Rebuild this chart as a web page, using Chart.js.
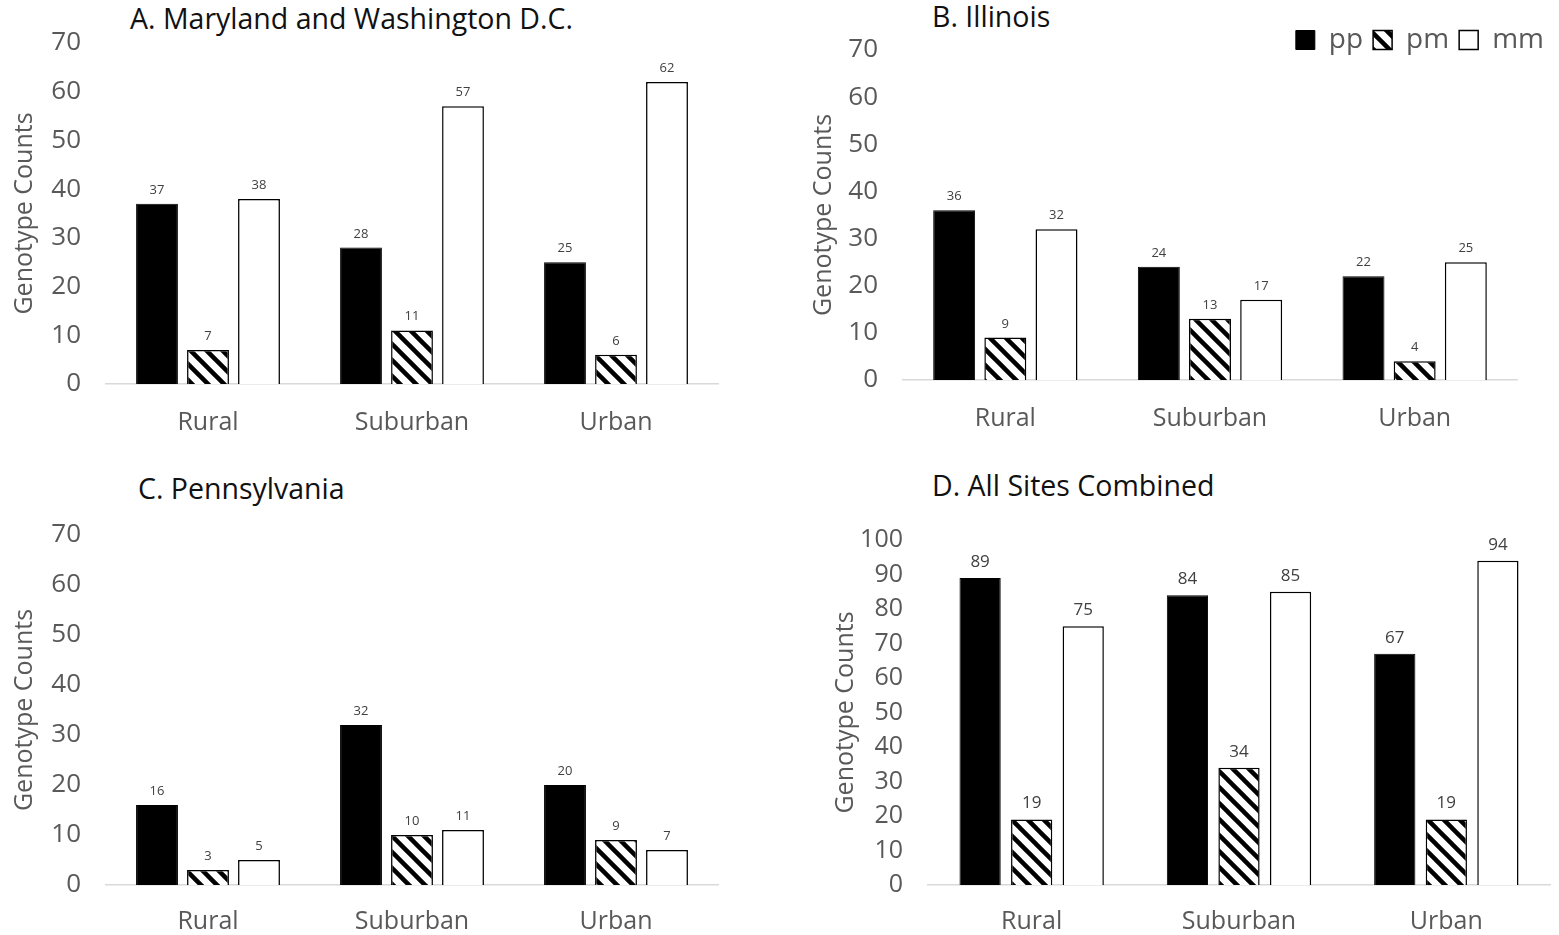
<!DOCTYPE html>
<html>
<head>
<meta charset="utf-8">
<script src="https://cdn.jsdelivr.net/npm/chart.js@4/dist/chart.umd.min.js"></script>
<style>
    body { margin: 0; background: #fff; width: 1559px; height: 935px; position: relative; overflow: hidden; }
    canvas { position: absolute; }
    .ttl { position: absolute; font-family: "Open Sans", sans-serif; font-size: 28.5px; line-height: 1; color: #111; white-space: nowrap; }
</style>
</head>
<body>
<div class="ttl" style="left:130px;top:4px;">A. Maryland and Washington D.C.</div>
<div class="ttl" style="left:932px;top:2px;">B. Illinois</div>
<div class="ttl" style="left:138px;top:474px;">C. Pennsylvania</div>
<div class="ttl" style="left:932px;top:471px;">D. All Sites Combined</div>

<canvas id="chartA" width="780" height="460" style="left:0;top:0;"></canvas>
<canvas id="chartB" width="779" height="460" style="left:780px;top:0;"></canvas>
<canvas id="chartC" width="780" height="475" style="left:0;top:460px;"></canvas>
<canvas id="chartD" width="779" height="475" style="left:780px;top:460px;"></canvas>

<script>
const sites = ['Rural', 'Suburban', 'Urban'];
const genotypes = ['pp', 'pm', 'mm'];

// A. Maryland and Washington D.C.
const mdPP = [37, 28, 25];
const mdPM = [7, 11, 6];
const mdMM = [38, 57, 62];
// B. Illinois
const ilPP = [36, 24, 22];
const ilPM = [9, 13, 4];
const ilMM = [32, 17, 25];
// C. Pennsylvania
const paPP = [16, 32, 20];
const paPM = [3, 10, 9];
const paMM = [5, 11, 7];
// D. All sites combined
const allPP = [89, 84, 67];
const allPM = [19, 34, 19];
const allMM = [75, 85, 94];

const yTicks70 = [0, 10, 20, 30, 40, 50, 60, 70];
const yTicks100 = [0, 10, 20, 30, 40, 50, 60, 70, 80, 90, 100];

const FONT = '"Open Sans", sans-serif';
const GREY = '#595959';

// diagonal hatch for the pm bars
function makeHatch() {
    const size = 16;
    const c = document.createElement('canvas');
    c.width = size;
    c.height = size;
    const g = c.getContext('2d');
    g.fillStyle = '#fff';
    g.fillRect(0, 0, size, size);
    g.strokeStyle = '#000';
    g.lineWidth = 4.5;
    [-size, 0, size].forEach(off => {
        g.beginPath();
        g.moveTo(-2, -2 + off);
        g.lineTo(size + 2, size + 2 + off);
        g.stroke();
    });
    return g.createPattern(c, 'repeat');
}
const hatch = makeHatch();

// numbers above the bars
const valueLabels = {
    id: 'valueLabels',
    afterDatasetsDraw(chart, args, opts) {
        const ctx = chart.ctx;
        ctx.save();
        ctx.font = opts.size + 'px ' + FONT;
        ctx.fillStyle = '#404040';
        ctx.textAlign = 'center';
        ctx.textBaseline = 'alphabetic';
        chart.data.datasets.forEach((ds, i) => {
            chart.getDatasetMeta(i).data.forEach((bar, j) => {
                ctx.fillText(ds.data[j], bar.x, bar.y - opts.gap);
            });
        });
        ctx.restore();
    }
};

// legend sits in the title row of panel B, not above the plot
const legendSpot = {
    id: 'legendSpot',
    afterLayout(chart, args, opts) {
        const lg = chart.legend;
        if (!lg || !opts.right) return;
        const w = lg.right - lg.left;
        lg.right = opts.right;
        lg.left = opts.right - w;
        lg.top = opts.top;
        lg.bottom = opts.top + 50;
    }
};

function makeChart(id, pp, pm, mm, cfg) {
    const ctx = document.getElementById(id).getContext('2d');
    return new Chart(ctx, {
        type: 'bar',
        data: {
            labels: sites,
            datasets: [
                { label: genotypes[0], data: pp, backgroundColor: '#000', borderColor: '#000', borderWidth: 1 },
                { label: genotypes[1], data: pm, backgroundColor: hatch, borderColor: '#000', borderWidth: 1.5 },
                { label: genotypes[2], data: mm, backgroundColor: '#fff', borderColor: '#000', borderWidth: 1.5 }
            ]
        },
        options: {
            responsive: false,
            animation: false,
            devicePixelRatio: 1,
            categoryPercentage: cfg.catPct,
            barPercentage: cfg.barPct,
            layout: { padding: cfg.padding },
            plugins: {
                legend: cfg.legend ? {
                    display: true,
                    position: 'top',
                    align: 'end',
                    maxHeight: 1,
                    labels: {
                        boxWidth: 19,
                        boxHeight: 19,
                        padding: 10,
                        color: GREY,
                        font: { family: FONT, size: 28 }
                    }
                } : { display: false },
                legendSpot: cfg.legendSpot || {},
                tooltip: { enabled: false },
                valueLabels: { size: cfg.labelSize, gap: cfg.labelGap }
            },
            scales: {
                x: {
                    grid: { display: false, drawTicks: false },
                    border: { display: true, color: '#d9d9d9', width: 1.5 },
                    ticks: { color: GREY, padding: cfg.xPad, font: { family: FONT, size: 25 } },
                    afterFit: s => { s.height = cfg.xHeight; }
                },
                y: {
                    min: 0,
                    max: cfg.ticks[cfg.ticks.length - 1],
                    afterBuildTicks: s => { s.ticks = cfg.ticks.map(v => ({ value: v })); },
                    grid: { display: false, drawTicks: false },
                    border: { display: false },
                    ticks: { color: GREY, padding: 25, font: { family: FONT, size: cfg.tickSize } },
                    title: {
                        display: true,
                        text: 'Genotype Counts',
                        color: GREY,
                        padding: { top: 0, bottom: 0 },
                        font: { family: FONT, size: 25 }
                    },
                    afterFit: s => { s.width = cfg.yWidth; }
                }
            }
        },
        plugins: [valueLabels, legendSpot]
    });
}

makeChart('chartA', mdPP, mdPM, mdMM, {
    padding: { left: 10, top: 43, right: 62, bottom: 0 },
    yWidth: 96, xHeight: 76, xPad: 24,
    catPct: 0.75, barPct: 0.82, ticks: yTicks70, tickSize: 26,
    labelSize: 13, labelGap: 10
});

makeChart('chartB', ilPP, ilPM, ilMM, {
    padding: { left: 29, top: 49, right: 42, bottom: 0 },
    yWidth: 94, xHeight: 80, xPad: 24,
    catPct: 0.75, barPct: 0.82, ticks: yTicks70, tickSize: 26,
    labelSize: 13, labelGap: 10,
    legend: true, legendSpot: { right: 774, top: 16 }
});

makeChart('chartC', paPP, paPM, paMM, {
    padding: { left: 10, top: 75, right: 62, bottom: 0 },
    yWidth: 96, xHeight: 50, xPad: 22,
    catPct: 0.75, barPct: 0.82, ticks: yTicks70, tickSize: 26,
    labelSize: 13, labelGap: 10
});

makeChart('chartD', allPP, allPM, allMM, {
    padding: { left: 51, top: 80, right: 9, bottom: 0 },
    yWidth: 97, xHeight: 50, xPad: 22,
    catPct: 0.746, barPct: 0.8, ticks: yTicks100, tickSize: 25,
    labelSize: 17, labelGap: 11
});
</script>
</body>
</html>
